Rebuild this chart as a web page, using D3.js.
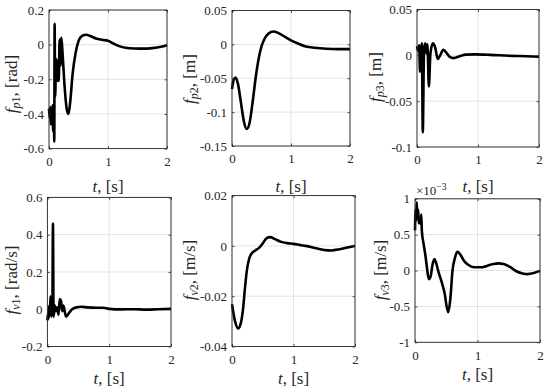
<!DOCTYPE html>
<html>
<head>
<meta charset="utf-8">
<script src="https://cdn.jsdelivr.net/npm/d3@7"></script>
<style>
body { margin: 0; background: #fff; }
</style>
</head>
<body>
<svg width="550" height="388"></svg>
<script>
// ---- data ----
var tP1 = [0,0.01,0.02,0.03,0.04,0.05,0.06,0.07,0.08,0.09,0.095,0.105,0.12,0.14,0.15,0.165,0.18,0.195,0.21,0.23,0.26,0.30,0.33,0.36,0.40,0.45,0.50,0.56,0.63,0.70,0.80,0.90,1.00,1.10,1.20,1.30,1.45,1.60,1.75,1.90,2.00]
var fP1 = [-0.37,-0.42,-0.36,-0.46,-0.38,-0.44,-0.35,-0.50,-0.40,-0.56,0.12,-0.30,-0.08,-0.21,-0.09,-0.21,0.03,-0.12,0.04,-0.05,-0.22,-0.37,-0.40,-0.33,-0.17,-0.05,0.02,0.05,0.057,0.05,0.035,0.028,0.022,0.005,-0.01,-0.018,-0.022,-0.023,-0.02,-0.012,-0.003]

var tP2 = [0,0.03,0.06,0.10,0.15,0.20,0.25,0.30,0.35,0.40,0.45,0.50,0.55,0.62,0.70,0.78,0.90,1.00,1.10,1.25,1.40,1.60,1.80,2.00]
var fP2 = [-0.066,-0.052,-0.049,-0.058,-0.085,-0.113,-0.125,-0.115,-0.085,-0.05,-0.022,-0.003,0.008,0.016,0.019,0.017,0.011,0.006,0.002,-0.003,-0.005,-0.0065,-0.007,-0.007]

var tP3 = [0,0.02,0.035,0.05,0.065,0.08,0.095,0.115,0.135,0.155,0.17,0.195,0.22,0.26,0.30,0.34,0.38,0.43,0.48,0.54,0.60,0.70,0.80,0.95,1.2,1.5,1.8,2.0]
var fP3 = [0.010,0.005,0.011,-0.018,0.004,0.013,-0.084,0.005,0.013,0.002,0.012,-0.034,0.002,0.013,0.008,-0.004,0.0,0.006,0.003,-0.002,-0.003,-0.001,0.0008,0.001,0.0005,-0.0005,-0.001,-0.0015]

var tV1 = [0,0.01,0.02,0.03,0.04,0.05,0.06,0.07,0.08,0.09,0.10,0.12,0.14,0.16,0.18,0.20,0.22,0.24,0.26,0.30,0.35,0.40,0.47,0.55,0.65,0.80,0.90,1.00,1.20,1.40,1.60,1.80,2.00]
var fV1 = [-0.06,-0.02,-0.05,0.02,-0.03,0.07,-0.04,0.06,-0.03,0.46,-0.04,0.02,-0.01,0.01,-0.03,0.055,0.045,-0.01,0.02,-0.04,-0.02,0.0,0.01,0.013,0.01,0.008,0.008,0.002,-0.001,0.0,-0.002,0.0,0.002]

var tV2 = [0,0.05,0.10,0.14,0.18,0.21,0.24,0.28,0.32,0.38,0.44,0.50,0.56,0.62,0.70,0.80,0.90,1.00,1.10,1.20,1.35,1.50,1.62,1.75,1.90,2.00]
var fV2 = [-0.0232,-0.030,-0.0328,-0.031,-0.025,-0.017,-0.010,-0.005,-0.003,-0.0018,-0.0008,0.001,0.003,0.0035,0.0027,0.0016,0.0011,0.0008,0.0004,0.0,-0.0008,-0.0016,-0.0018,-0.0013,-0.0005,0.0]

// f_v3 in units of 1e-3 m/s
var tV3 = [0,0.01,0.02,0.027,0.04,0.05,0.06,0.075,0.09,0.10,0.11,0.14,0.165,0.19,0.22,0.25,0.28,0.31,0.34,0.37,0.42,0.47,0.53,0.565,0.60,0.64,0.68,0.72,0.78,0.85,0.95,1.05,1.15,1.25,1.33,1.42,1.52,1.62,1.72,1.80,1.90,2.00]
var fV3 = [0.56,0.85,0.70,0.95,0.72,0.85,0.66,0.72,0.65,0.78,0.55,0.36,0.22,0.05,-0.12,-0.08,0.08,0.16,0.10,0.0,-0.14,-0.30,-0.58,-0.40,0.0,0.18,0.26,0.23,0.14,0.08,0.045,0.045,0.065,0.09,0.10,0.09,0.05,-0.01,-0.04,-0.05,-0.035,-0.005]

var xTicks = [0, 1, 2]
var yTicksP1 = [0.2, 0, -0.2, -0.4, -0.6],  yLabP1 = ['0.2','0','-0.2','-0.4','-0.6']
var yTicksP2 = [0.05, 0, -0.05, -0.1, -0.15], yLabP2 = ['0.05','0','-0.05','-0.1','-0.15']
var yTicksP3 = [0.05, 0, -0.05, -0.1], yLabP3 = ['0.05','0','-0.05','-0.1']
var yTicksV1 = [0.6, 0.4, 0.2, 0, -0.2], yLabV1 = ['0.6','0.4','0.2','0','-0.2']
var yTicksV2 = [0.02, 0, -0.02, -0.04], yLabV2 = ['0.02','0','-0.02','-0.04']
var yTicksV3 = [1, 0.5, 0, -0.5, -1], yLabV3 = ['1','0.5','0','-0.5','-1']

var FONT = "'Liberation Serif'"
var svg = d3.select('svg')

// frame boxes + label spots
var panels = [
  {t: tP1, v: fP1, ticks: yTicksP1, labs: yLabP1, dom: [-0.6, 0.2],  box: [49, 167, 10, 148.6],   sub: 'p', num: '1', unit: '[rad]',   yl: [17, 84],   xl: 192},
  {t: tP2, v: fP2, ticks: yTicksP2, labs: yLabP2, dom: [-0.15, 0.05], box: [232, 350, 10.5, 146], sub: 'p', num: '2', unit: '[m]',     yl: [195, 79],  xl: 192},
  {t: tP3, v: fP3, ticks: yTicksP3, labs: yLabP3, dom: [-0.1, 0.05],  box: [417, 539, 9.5, 147],  sub: 'p', num: '3', unit: '[m]',     yl: [381, 77],  xl: 192},
  {t: tV1, v: fV1, ticks: yTicksV1, labs: yLabV1, dom: [-0.2, 0.6],   box: [47.4, 171, 197.4, 346.5], sub: 'v', num: '1', unit: '[rad/s]', yl: [17, 280], xl: 384},
  {t: tV2, v: fV2, ticks: yTicksV2, labs: yLabV2, dom: [-0.04, 0.02], box: [232, 355, 195.6, 346.5], sub: 'v', num: '2', unit: '[m/s]', yl: [195, 270], xl: 384},
  {t: tV3, v: fV3, ticks: yTicksV3, labs: yLabV3, dom: [-1, 1],       box: [415, 540, 198.8, 342.3], sub: 'v', num: '3', unit: '[m/s]', yl: [386, 270], xl: 380}
]

panels.forEach(function(p, k) {
  var b = p.box
  var x = d3.scaleLinear().domain([0, 2]).range([b[0], b[1]])
  var y = d3.scaleLinear().domain(p.dom).range([b[3], b[2]])
  var g = svg.append('g')

  // grid
  g.selectAll('.gx').data(xTicks).enter().append('line')
    .attr('x1', d => x(d)).attr('x2', d => x(d))
    .attr('y1', b[2]).attr('y2', b[3])
    .attr('stroke', '#e3e3e3').attr('stroke-width', 1)
  g.selectAll('.gy').data(p.ticks).enter().append('line')
    .attr('x1', b[0]).attr('x2', b[1])
    .attr('y1', d => y(d)).attr('y2', d => y(d))
    .attr('stroke', '#e3e3e3').attr('stroke-width', 1)

  // the curve
  var line = d3.line()
    .x((d, i) => x(p.t[i]))
    .y(d => y(d))
    .curve(d3.curveMonotoneX)
  g.append('path').datum(p.v)
    .attr('d', line)
    .attr('fill', 'none')
    .attr('stroke', '#000')
    .attr('stroke-width', 2.6)
    .attr('stroke-linejoin', 'round')

  // axes, ticks inside like matlab
  var ax = g.append('g').attr('transform', 'translate(0,' + b[3] + ')')
    .call(d3.axisBottom(x).tickValues(xTicks).tickFormat(d3.format('d')).tickSizeInner(-2.5).tickSizeOuter(0).tickPadding(8))
  var ay = g.append('g').attr('transform', 'translate(' + b[0] + ',0)')
    .call(d3.axisLeft(y).tickValues(p.ticks).tickFormat((d, i) => p.labs[i]).tickSizeInner(-2.5).tickSizeOuter(0).tickPadding(5))
  var axT = g.append('g').attr('transform', 'translate(0,' + b[2] + ')')
    .call(d3.axisTop(x).tickValues(xTicks).tickFormat('').tickSizeInner(-2.5).tickSizeOuter(0))
  var ayR = g.append('g').attr('transform', 'translate(' + b[1] + ',0)')
    .call(d3.axisRight(y).tickValues(p.ticks).tickFormat('').tickSizeInner(-2.5).tickSizeOuter(0))
  ;[ax, ay, axT, ayR].forEach(function(a) {
    a.attr('font-family', null).attr('font-size', null)
    a.select('.domain').remove()
    a.selectAll('line').attr('stroke', '#262626').attr('stroke-width', 0.8)
    a.selectAll('text').style('font-family', FONT).style('font-size', '13px').attr('fill', '#262626')
  })

  // frame
  g.append('rect')
    .attr('x', b[0]).attr('y', b[2])
    .attr('width', b[1] - b[0]).attr('height', b[3] - b[2])
    .attr('fill', 'none').attr('stroke', '#262626').attr('stroke-width', 0.9)

  // x label
  var xl = g.append('text')
    .attr('x', (b[0] + b[1]) / 2).attr('y', p.xl)
    .attr('text-anchor', 'middle').attr('fill', '#262626')
    .style('font-family', FONT).style('font-size', '17px')
  xl.append('tspan').attr('font-style', 'italic').text('t')
  xl.append('tspan').text(', [s]')

  // y label
  var yl = g.append('text')
    .attr('transform', 'translate(' + p.yl[0] + ',' + p.yl[1] + ') rotate(-90)')
    .attr('text-anchor', 'middle').attr('fill', '#262626')
    .style('font-family', FONT).style('font-size', '17px')
  yl.append('tspan').attr('font-style', 'italic').text('f')
  yl.append('tspan').attr('font-style', 'italic').attr('dy', 3).style('font-size', '12px').text(p.sub)
  yl.append('tspan').style('font-size', '12px').text(p.num)
  yl.append('tspan').attr('dy', -3).text(', ' + p.unit)

  // exponent on last panel
  if (k === 5) {
    var ex = g.append('text').attr('x', b[0] + 1).attr('y', b[2] - 4)
      .attr('fill', '#262626').style('font-family', FONT).style('font-size', '13px')
    ex.append('tspan').text('\u00d710')
    ex.append('tspan').attr('dy', -5).style('font-size', '9.5px').text('\u22123')
  }
})
</script>
</body>
</html>
